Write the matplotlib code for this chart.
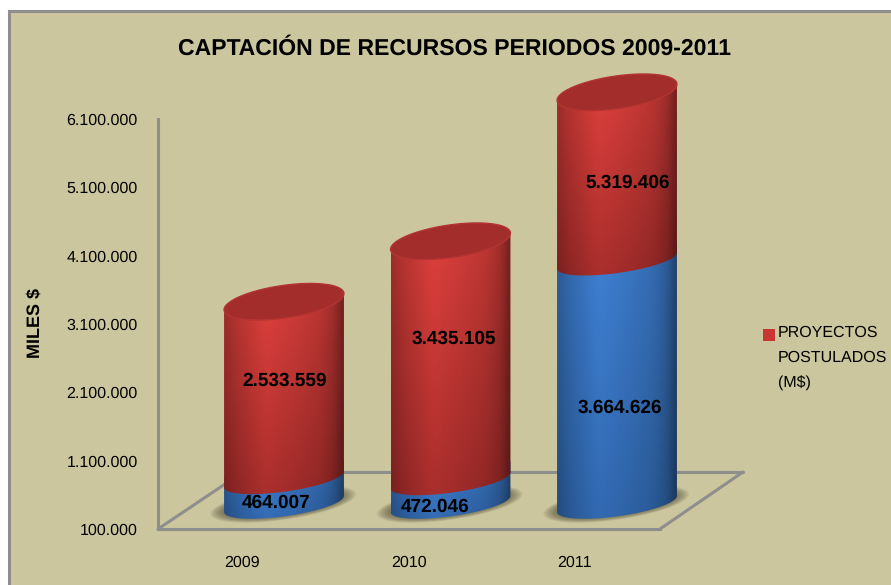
import numpy as np
from matplotlib import pyplot as plt
from matplotlib.lines import Line2D
from matplotlib.patches import Polygon, Rectangle
from matplotlib.transforms import Affine2D

plt.rcParams['font.family'] = ['Liberation Sans', 'DejaVu Sans']
plt.rcParams['text.hinting'] = 'no_hinting'
plt.rcParams['text.hinting_factor'] = 1

TITLE = "CAPTACIÓN DE RECURSOS PERIODOS 2009-2011"
years = ['2009', '2010', '2011']
y_ticks = [100000, 1100000, 2100000, 3100000, 4100000, 5100000, 6100000]
y_tick_labels = ['100.000', '1.100.000', '2.100.000', '3.100.000',
                 '4.100.000', '5.100.000', '6.100.000']

# heights as drawn in the picture (they do not always agree with the labels)
blue_values = [360000, 345000, 3560000]
red_values = [2600000, 3500000, 2465000]
blue_labels = ['464.007', '472.046', '3.664.626']
red_labels = ['2.533.559', '3.435.105', '5.319.406']

# where the labels sit: shift from the bar centre, and height on the y axis
blue_label_dx = [-0.045, -0.093, 0.018]
blue_label_y = [485000, 425000, 1875000]
red_label_dx = [0.003, 0.018, 0.063]
red_label_y = [2265000, 2881000, 5163000]

BACKGROUND = '#CCC69E'
FRAME = '#8E8E8C'
W, H = 891, 585

# cylinder shape in axis units
BASE = 466000
HALF_W = 0.36
SHEAR = 118000
RIM = 181000
CAP_RIM = 240000

fig = plt.figure(figsize=(W / 100, H / 100), dpi=100, facecolor='white')
# pixel coordinates with y going down, used for the frame and the floor
px = Affine2D().scale(1, -1).translate(0, H)

# x axis: bars at 284, 450.5, 617 px and axis from 158 to 660 px
ax = fig.add_axes([158 / W, (H - 529) / H, 502 / W, 410 / H])
ax.patch.set_visible(False)


def ring(xc, yc, half_w, shear, rim, t):
    return xc + half_w * np.cos(t), yc + shear * np.cos(t) + rim * np.sin(t)


def side_outline(xc, low, high, low_rim, high_rim):
    # silhouette of one cylinder piece, front edge curved at both ends
    t = np.linspace(np.pi, 2 * np.pi, 80)
    x1, y1 = ring(xc, low, HALF_W, SHEAR, low_rim, t)
    x2, y2 = ring(xc, high, HALF_W, SHEAR, high_rim, t[::-1])
    return np.column_stack([np.r_[x1, x2], np.r_[y1, y2]])


def shaded(shape, xc, low, high, top_rgb, bottom_rgb):
    # horizontal cylinder light, fading from top_rgb to bottom_rgb
    across = np.linspace(0, 1, 240)
    light = np.interp(across, [0, 0.1, 0.35, 0.6, 0.8, 0.93, 1],
                      [0.7, 0.82, 1, 0.92, 0.84, 0.7, 0.48])
    kernel = np.ones(21) / 21
    light = np.convolve(np.pad(light, 10, mode='edge'), kernel, mode='valid')
    fade = np.linspace(0, 1, 120)[:, None, None]
    rgb = (1 - fade) * np.array(top_rgb) + fade * np.array(bottom_rgb)
    img = rgb * light[None, :, None] / 255
    pad = CAP_RIM + SHEAR
    im = ax.imshow(np.clip(img, 0, 1), aspect='auto', zorder=4,
                   extent=[xc - HALF_W, xc + HALF_W, low - pad, high + pad],
                   origin='upper', interpolation='bilinear')
    im.set_clip_box(fig.bbox)
    im.set_clip_path(shape)


def draw_cylinder(xc, blue, red):
    mid = BASE + blue
    top = mid + red
    t = np.linspace(0, 2 * np.pi, 160)

    # soft shadow on the floor
    for grow in np.linspace(1.22, 1.0, 16):
        sx, sy = ring(xc - 0.005, BASE, HALF_W * grow, SHEAR * grow,
                      RIM * grow ** 1.3, t)
        ax.add_patch(Polygon(np.column_stack([sx, sy]), closed=True, lw=0,
                             fc='#55513A', alpha=0.055, zorder=3,
                             clip_on=False))

    blue_shape = Polygon(side_outline(xc, BASE, mid + RIM, RIM, RIM),
                         closed=True, lw=0, fc='none', transform=ax.transData)
    ax.add_patch(blue_shape)
    shaded(blue_shape, xc, BASE, mid, (64, 130, 214), (50, 106, 178))

    red_shape = Polygon(side_outline(xc, mid, top, RIM, CAP_RIM), closed=True,
                        lw=0, fc='none', transform=ax.transData)
    ax.add_patch(red_shape)
    shaded(red_shape, xc, mid, top, (228, 66, 62), (168, 46, 44))

    cx, cy = ring(xc, top, HALF_W, SHEAR, CAP_RIM, t)
    ax.add_patch(Polygon(np.column_stack([cx, cy]), closed=True, fc='#A22D2B',
                         ec='#B23330', lw=1.0, zorder=5, clip_on=False))


x = np.arange(len(years))
for i in x:
    draw_cylinder(i, blue_values[i], red_values[i])

for i in x:
    ax.text(i + blue_label_dx[i], blue_label_y[i], blue_labels[i],
            ha='center', va='center', fontsize=13.6, fontweight='bold',
            zorder=6)
    ax.text(i + red_label_dx[i], red_label_y[i], red_labels[i],
            ha='center', va='center', fontsize=13.6, fontweight='bold',
            zorder=6)

ax.set_xlim((158 - 284) / 166.5, (660 - 284) / 166.5)
ax.set_ylim(100000, 6100000)
# category labels sit under the front of the floor, left of the bars
ax.set_xticks(x - 42 / 166.5)
ax.set_xticklabels(years, fontsize=11.4)
ax.set_yticks(y_ticks)
ax.set_yticklabels(y_tick_labels, fontsize=11.4)
ax.tick_params(axis='x', length=0, pad=19)
ax.tick_params(axis='y', length=0, pad=14.5)
ax.set_ylabel('MILES $', fontsize=13, fontweight='bold')
ax.yaxis.set_label_coords((43 - 158) / 502, (529 - 323) / 410)
for side in ['top', 'right']:
    ax.spines[side].set_visible(False)
for side in ['left', 'bottom']:
    ax.spines[side].set_color(FRAME)
    ax.spines[side].set_linewidth(2.2)

# chart frame behind everything
fig.add_artist(Rectangle((9, 11), W + 20, H + 20, fc=BACKGROUND, ec=FRAME,
                         lw=2.2, transform=px, zorder=-5))
# floor
for xs, ys in [([158, 243], [529, 472]), ([243, 743], [472, 472]),
               ([743, 660], [472, 529])]:
    ax.add_line(Line2D(xs, ys, color=FRAME, lw=2.2, transform=px, zorder=1,
                       clip_on=False, solid_capstyle='round'))

fig.text(455, 49, TITLE, transform=px, ha='center', va='center',
         fontsize=16.6, fontweight='bold')

# legend
fig.add_artist(Rectangle((763, 329), 12, 12, fc='#C93533', lw=0, transform=px))
fig.text(778, 358, 'PROYECTOS\nPOSTULADOS\n(M$)', transform=px, ha='left',
         va='center', fontsize=11.2, linespacing=1.87)

fig.savefig('out.png', dpi=100)
